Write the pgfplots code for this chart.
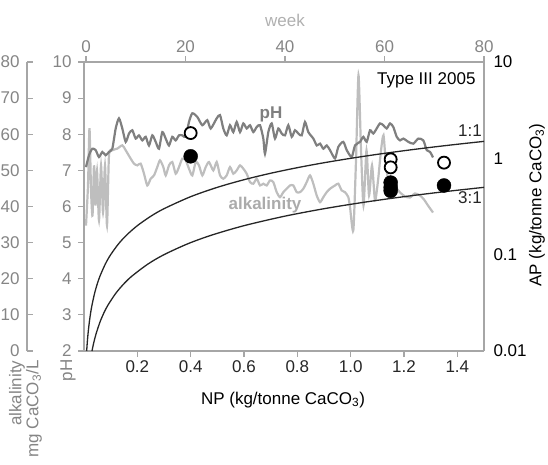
\documentclass[border=0pt]{standalone}
\usepackage{fontspec}
\setmainfont{Liberation Sans}
\usepackage{pgfplots}
\pgfplotsset{compat=1.18}
\definecolor{axgray}{HTML}{A6A6A6}
\definecolor{lblgray}{HTML}{858585}
\definecolor{phline}{HTML}{7F7F7F}
\definecolor{alkline}{HTML}{BEBEBE}
\definecolor{weekgray}{HTML}{B0B0B0}
\newcommand{\fs}{\fontsize{17}{20}\selectfont}
\begin{document}
\begin{tikzpicture}[x=1pt,y=1pt]
\useasboundingbox (0,0) rectangle (548,464);
\pgfplotsset{every axis/.append style={scale only axis, /pgf/number format/assume math mode=true, font=\fs,
  axis line style={axgray, line width=1.4pt}, tick style={axgray, line width=1.2pt}, major tick length=6pt}}

% ---------- alkalinity axis (outer left) ----------
\begin{axis}[at={(27pt,113pt)}, anchor=south west, width=457pt, height=289pt,
  xmin=-11.86, xmax=80, ymin=0, ymax=80,
  axis y line*=left, axis x line=none, tick align=inside,
  ytick={0,10,...,80}, yticklabel style={text=lblgray, xshift=-4pt},
  clip=false]
\addplot[alkline, line width=2.2pt, smooth, tension=0.4] coordinates {
(0,34.72) (0.40,45.83) (0.70,61.67) (1.01,44.44) (1.31,37.5) (1.61,51.39) (1.91,40.28) (2.21,50.0)
(2.61,36.11) (3.02,51.39) (3.42,38.33) (3.82,51.39) (4.22,34.72) (4.62,54.17) (5.29,55.56) (6.29,56.03)
(7.30,56.94) (7.98,55.56) (8.98,53.25) (9.65,51.86) (10.31,51.39) (10.99,51.86) (11.66,49.08) (12.32,45.83)
(13.00,47.69) (13.67,48.61) (14.33,50.92) (14.87,52.78) (15.54,50.92) (16.02,48.61) (16.68,51.39) (17.35,52.31)
(18.03,49.08) (18.69,50.92) (19.36,53.25) (20.04,52.78) (20.70,50.47) (21.37,48.61) (22.05,52.31) (22.71,51.39)
(23.38,48.61) (24.06,50.92) (24.72,52.31) (25.59,50.0) (26.27,52.31) (26.94,48.61) (27.60,47.69) (28.28,48.61)
(28.95,50.92) (29.61,49.08) (30.29,50.0) (30.96,51.39) (31.62,50.47) (32.30,49.08) (32.97,46.75) (33.63,46.31)
(34.31,47.69) (34.98,45.83) (35.64,46.31) (36.32,45.83) (36.98,47.22) (37.65,46.75) (38.33,43.97) (38.99,42.58)
(39.66,43.97) (40.34,44.92) (41.01,45.83) (41.67,45.83) (42.35,43.97) (43.02,43.97) (43.68,44.92) (44.36,46.75)
(45.03,48.61) (45.69,46.31) (46.37,43.06) (47.04,41.19) (47.70,42.58) (48.38,43.97) (49.05,44.92) (50.05,45.83)
(50.72,46.31) (51.39,44.44) (52.06,43.97) (52.73,42.58) (53.07,39.81) (53.73,33.33) (54.27,52.78) (54.77,76.39)
(55.28,55.56) (55.78,40.28) (56.38,55.56) (56.89,43.06) (57.49,51.39) (58.09,41.67) (58.70,47.22) (59.30,55.56)
(59.80,59.72) (60.30,51.39) (60.91,45.83) (61.51,43.06) (62.31,45.0) (63.11,43.89) (64.12,42.78) (65.12,42.5)
(66.13,43.61) (67.13,43.06) (67.93,41.94) (68.74,40.28) (69.75,38.33)};
\end{axis}

% ---------- pH / week axis ----------
\begin{axis}[at={(84pt,113pt)}, anchor=south west, width=400pt, height=289pt,
  xmin=-0.4, xmax=80, ymin=2, ymax=10,
  axis x line*=top, axis y line*=left, tick align=outside,
  xtick={0,20,...,80}, ytick={2,...,10},
  xticklabel style={text=lblgray}, yticklabel style={text=lblgray, xshift=-3pt},
  clip=false]
\addplot[phline, line width=2.2pt, smooth, tension=0.4] coordinates {
(0,7.09) (0.6,7.42) (1.27,7.60) (1.95,7.56) (2.61,7.37) (3.28,7.51) (3.96,7.42) (4.62,7.51) (5.29,7.60)
(5.97,8.16) (6.63,8.44) (7.30,8.16) (7.98,7.79) (8.64,8.02) (9.31,8.11) (9.99,7.88) (10.65,7.97) (11.32,7.83)
(12.00,7.93) (12.66,7.69) (13.33,7.97) (14.01,7.79) (14.67,7.60) (15.34,8.06) (16.02,7.88) (16.68,7.69)
(17.35,7.93) (18.03,7.83) (18.69,7.97) (19.36,7.97) (20.04,7.93) (20.70,8.34) (21.37,8.58) (22.37,8.48)
(23.38,8.25) (24.38,8.39) (25.07,8.16) (26.27,8.44) (26.94,8.53) (27.60,8.16) (28.28,7.97) (28.95,8.25)
(29.61,8.06) (30.29,8.34) (30.96,8.06) (31.62,8.30) (32.30,8.16) (32.97,8.25) (33.63,8.06) (34.31,8.20)
(34.98,8.25) (35.64,7.88) (35.98,7.46) (36.65,8.06) (37.33,8.30) (37.99,7.88) (38.66,8.16) (39.34,8.02)
(40.00,7.97) (40.67,8.25) (41.35,7.93) (42.01,8.11) (42.68,8.02) (43.36,7.97) (44.02,8.34) (44.69,8.06)
(45.70,7.88) (46.38,7.69) (47.04,7.74) (47.71,7.60) (48.38,7.69) (49.05,7.56) (50.05,7.33) (50.72,7.65)
(51.72,7.79) (52.41,7.56) (53.41,7.37) (54.07,7.69) (55.08,7.79) (55.74,7.93) (56.42,7.79) (57.09,8.11)
(57.75,8.02) (58.43,8.16) (59.10,8.30) (59.76,8.25) (60.44,8.16) (61.11,8.30) (61.77,8.20) (62.45,7.93)
(63.12,7.83) (63.78,7.88) (64.79,7.79) (65.79,7.74) (66.80,7.88) (67.80,7.83) (68.49,7.56) (69.15,7.51)
(69.75,7.36)};
\end{axis}

% ---------- NP / AP axis ----------
\begin{axis}[at={(84pt,113pt)}, anchor=south west, width=400pt, height=289pt,
  xmin=0, xmax=1.5, ymode=log, ymin=0.01, ymax=10,
  axis x line*=bottom, axis y line*=right, tick align=outside,
  xtick={0.2,0.4,0.6,0.8,1.0,1.2,1.4}, xticklabels={0.2,0.4,0.6,0.8,1.0,1.2,1.4},
  ytick={0.01,0.1,1,10}, yticklabels={0.01,0.1,1,10},
  ytick style={draw=none},
  xticklabel style={text=black!85}, yticklabel style={text=black},
  clip=false]
\addplot[black!85, line width=1.3pt, smooth] coordinates {
(0.01,0.01) (0.012,0.012) (0.015,0.015) (0.02,0.02) (0.025,0.025) (0.03,0.03) (0.04,0.04) (0.05,0.05)
(0.06,0.06) (0.08,0.08) (0.1,0.1) (0.13,0.13) (0.16,0.16) (0.2,0.2) (0.25,0.25) (0.3,0.3) (0.4,0.4)
(0.5,0.5) (0.6,0.6) (0.7,0.7) (0.8,0.8) (0.9,0.9) (1.0,1.0) (1.1,1.1) (1.2,1.2) (1.3,1.3) (1.4,1.4) (1.5,1.5)};
\addplot[black!85, line width=1.3pt, smooth] coordinates {
(0.03,0.01) (0.036,0.012) (0.045,0.015) (0.06,0.02) (0.075,0.025) (0.09,0.03) (0.12,0.04) (0.15,0.05)
(0.18,0.06) (0.24,0.08) (0.3,0.1) (0.39,0.13) (0.48,0.16) (0.6,0.2) (0.75,0.25) (0.9,0.3) (1.05,0.35)
(1.2,0.4) (1.35,0.45) (1.5,0.5)};
\addplot[only marks, mark=*, mark size=7pt, mark options={fill=black, draw=black}] coordinates {
(0.40,1.05) (1.15,0.56) (1.15,0.50) (1.15,0.46) (1.35,0.523)};
\addplot[only marks, mark=*, mark size=6pt, mark options={fill=white, draw=black, line width=1.8pt}] coordinates {
(0.40,1.83) (1.15,0.976) (1.15,0.806) (1.35,0.902)};
\end{axis}

% ---------- text ----------
\node[font=\fs, text=weekgray] at (285,444) {week};
\node[font=\fs, anchor=east] at (479,384) {Type III 2005};
\node[font=\fs, text=black!85] at (470,333) {1:1};
\node[font=\fs, text=black!85] at (470,266) {3:1};
\node[font=\fs\bfseries, text=phline] at (271,350) {pH};
\node[font=\fs\bfseries, text=alkline!90!black] at (265,259) {alkalinity};
\node[font=\fs, text=black] at (283,64) {NP (kg/tonne CaCO\textsubscript{3})};
\node[font=\fs, text=black, rotate=90] at (537,259) {AP (kg/tonne CaCO\textsubscript{3})};
\node[font=\fs, text=lblgray, rotate=90, anchor=east] at (68,108) {pH};
\node[font=\fs, text=lblgray, rotate=90, anchor=east] at (17,107) {alkalinity};
\node[font=\fs, text=lblgray, rotate=90, anchor=east] at (34,107) {mg CaCO\textsubscript{3}/L};
\end{tikzpicture}
\end{document}
